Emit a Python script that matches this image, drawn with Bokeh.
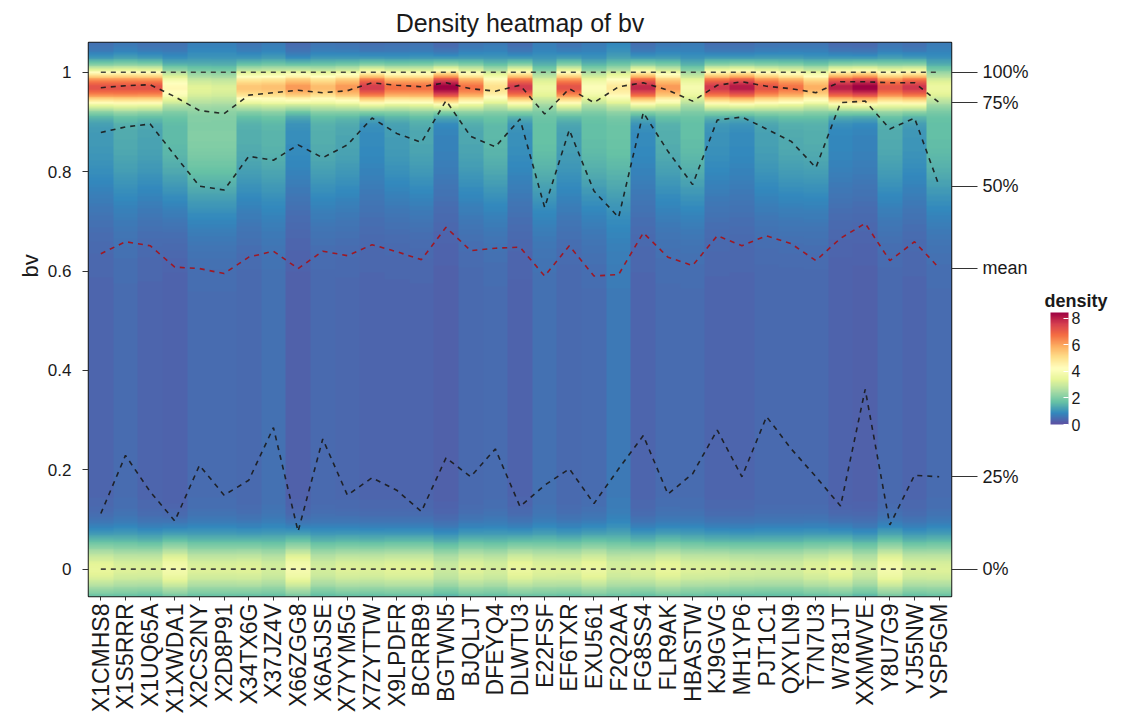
import numpy as np
from bokeh.plotting import figure
from bokeh.models import (FactorRange, Range1d, LinearAxis, FixedTicker,
                          LinearColorMapper, ColorBar)
from bokeh.embed import file_html
from bokeh.resources import INLINE

# ---------------- data ----------------
categories = ["X1CMHS8", "X1S5RRR", "X1UQ65A", "X1XWDA1", "X2CS2NY", "X2D8P91",
              "X34TX6G", "X37JZ4V", "X66ZGG8", "X6A5JSE", "X7YYM5G", "X7ZYTTW",
              "X9LPDFR", "BCRRB9", "BGTWN5", "BJQLJT", "DFEYQ4", "DLWTU3",
              "E22FSF", "EF6TXR", "EXU561", "F2Q2AA", "FG8SS4", "FLR9AK",
              "HBASTW", "KJ9GVG", "MH1YP6", "PJT1C1", "QXYLN9", "T7N7U3",
              "W781JT", "XXMWVE", "Y8U7G9", "YJ55NW", "YSP5GM"]

q100 = [1.0, 1.0, 1.0, 1.0, 1.0, 1.0, 1.0, 1.0, 1.0, 1.0, 1.0, 1.0,
        1.0, 1.0, 1.0, 1.0, 1.0, 1.0, 1.0, 1.0, 1.0, 1.0, 1.0, 1.0,
        1.0, 1.0, 1.0, 1.0, 1.0, 1.0, 1.0, 1.0, 1.0, 1.0, 1.0]
q75 = [0.969, 0.973, 0.975, 0.951, 0.923, 0.917, 0.954, 0.959, 0.964, 0.959,
       0.963, 0.979, 0.974, 0.971, 0.979, 0.967, 0.962, 0.974, 0.916, 0.967,
       0.939, 0.971, 0.979, 0.964, 0.942, 0.974, 0.981, 0.972, 0.967, 0.959,
       0.981, 0.981, 0.979, 0.979, 0.939]
q50 = [0.879, 0.890, 0.896, 0.833, 0.771, 0.763, 0.831, 0.823, 0.854, 0.828,
       0.854, 0.908, 0.877, 0.859, 0.943, 0.871, 0.850, 0.906, 0.728, 0.884,
       0.761, 0.708, 0.919, 0.841, 0.774, 0.904, 0.910, 0.886, 0.861, 0.808,
       0.939, 0.942, 0.886, 0.908, 0.771]
mean_bv = [0.635, 0.659, 0.651, 0.608, 0.605, 0.595, 0.628, 0.640, 0.605, 0.640,
           0.631, 0.653, 0.639, 0.623, 0.688, 0.641, 0.646, 0.648, 0.590, 0.651,
           0.590, 0.593, 0.677, 0.628, 0.611, 0.671, 0.651, 0.671, 0.655, 0.621,
           0.666, 0.696, 0.621, 0.659, 0.606]
q25 = [0.112, 0.229, 0.156, 0.097, 0.209, 0.149, 0.179, 0.285, 0.076, 0.262,
       0.149, 0.184, 0.159, 0.116, 0.224, 0.186, 0.242, 0.126, 0.169, 0.202,
       0.132, 0.202, 0.269, 0.151, 0.192, 0.280, 0.186, 0.307, 0.242, 0.186,
       0.127, 0.362, 0.089, 0.189, 0.186]
q0 = [0.0, 0.0, 0.0, 0.0, 0.0, 0.0, 0.0, 0.0, 0.0, 0.0, 0.0, 0.0,
      0.0, 0.0, 0.0, 0.0, 0.0, 0.0, 0.0, 0.0, 0.0, 0.0, 0.0, 0.0,
      0.0, 0.0, 0.0, 0.0, 0.0, 0.0, 0.0, 0.0, 0.0, 0.0, 0.0]

# density components read per column: peak near 1, shoulder below it,
# interior level, peak at 0
top_peak = [6.4, 6.2, 6.3, 3.3, 1.9, 1.8, 4.5, 4.5, 5.5, 4.65, 5.25, 6.9,
            5.85, 5.75, 7.85, 5.75, 3.9, 6.9, 2.4, 6.3, 2.9, 3.5, 7.2, 5.15,
            2.7, 6.9, 7.4, 6.3, 5.7, 4.85, 7.4, 7.85, 6.2, 6.9, 2.4]
shoulder = [0.75, 0.9, 0.9, 1.3, 1.6, 1.6, 1.0, 1.0, 0.65, 1.0, 0.9, 0.55,
            0.8, 0.95, 0.5, 0.9, 1.1, 0.65, 1.2, 0.8, 1.2, 1.1, 0.55, 0.95,
            1.2, 0.65, 0.55, 0.8, 0.95, 1.0, 0.55, 0.5, 0.95, 0.7, 1.2]
interior = [0.35, 0.45, 0.35, 0.30, 0.45, 0.45, 0.40, 0.50, 0.28, 0.40, 0.38, 0.35,
            0.35, 0.35, 0.28, 0.40, 0.45, 0.32, 0.50, 0.40, 0.45, 0.65, 0.35, 0.45,
            0.45, 0.35, 0.35, 0.40, 0.40, 0.40, 0.30, 0.28, 0.40, 0.35, 0.45]
bottom_peak = [3.1, 2.8, 2.9, 3.5, 2.8, 2.8, 2.9, 2.6, 3.6, 2.7, 2.9, 2.9,
               3.0, 3.0, 2.7, 2.9, 2.7, 3.2, 2.8, 2.9, 3.1, 2.5, 2.9, 3.0,
               2.8, 2.9, 2.8, 2.7, 2.7, 2.9, 3.2, 2.8, 3.4, 2.9, 2.8]

y_ticks = [0, 0.2, 0.4, 0.6, 0.8, 1.0]
y_tick_labels = ["0", "0.2", "0.4", "0.6", "0.8", "1"]
quantile_names = ["100%", "75%", "50%", "mean", "25%", "0%"]
density_ticks = [0, 2, 4, 6, 8]

spectral = ["#5e4fa2", "#3288bd", "#66c2a5", "#abdda4", "#e6f598", "#ffffbf",
            "#fee08b", "#fdae61", "#f46d43", "#d53e4f", "#9e0142"]

FONT = "Liberation Sans"
TXT = "#1a1a1a"


def interp_palette(cols, n):
    rgb = np.array([[int(c[i:i + 2], 16) for i in (1, 3, 5)] for c in cols], float)
    out = []
    for t in np.linspace(0, len(cols) - 1, n):
        i = min(int(t), len(cols) - 2)
        f = t - i
        c = rgb[i] * (1 - f) + rgb[i + 1] * f
        out.append("#%02x%02x%02x" % tuple(int(round(v)) for v in c))
    return out


palette = interp_palette(spectral, 256)

# ---------------- density image ----------------
y_lo, y_hi = -0.055, 1.06
ny = 320
ys = y_lo + (np.arange(ny) + 0.5) * (y_hi - y_lo) / ny
Y = ys[:, None]
dens = (np.array(bottom_peak)[None, :] * np.exp(-Y ** 2 / (2 * 0.043 ** 2))
        + np.array(top_peak)[None, :] * np.exp(-(Y - 0.97) ** 2 / (2 * 0.027 ** 2))
        + np.array(shoulder)[None, :] * np.exp(-(Y - 0.87) ** 2 / (2 * 0.1 ** 2))
        + np.array(interior)[None, :])

mapper = LinearColorMapper(palette=palette, low=0, high=8.45)

W, H = 1110, 716
FL, FT, FR, FB = 88, 42, 955, 600

p = figure(width=W, height=H,
           x_range=FactorRange(*categories, range_padding=0),
           y_range=Range1d(y_lo, y_hi),
           output_backend="svg", toolbar_location=None,
           min_border_left=FL, min_border_right=W - FR,
           min_border_top=FT, min_border_bottom=H - FB)

p.title.text = "Density heatmap of bv"
p.title.align = "center"
p.title.text_font = FONT
p.title.text_font_size = "25px"
p.title.text_font_style = "normal"
p.title.text_color = TXT
p.title.standoff = 12

p.image(image=[dens], x=0, y=y_lo, dw=len(categories), dh=y_hi - y_lo,
        color_mapper=mapper)

dash = "5 5"
for series, col in [(q100, "#333333"), (q75, "#1a1a1a"), (q50, "#1a1a1a"),
                    (q25, "#1a1a1a"), (q0, "#333333")]:
    p.line(x=categories, y=series, line_color=col, line_width=1.6,
           line_dash=dash, line_alpha=0.9)
p.line(x=categories, y=mean_bv, line_color="#a3141c", line_width=1.6,
       line_dash=dash, line_alpha=0.95)

p.xgrid.visible = False
p.ygrid.visible = False
p.outline_line_color = "#1a1a1a"
p.outline_line_width = 1.5
p.background_fill_color = "white"
p.border_fill_color = "white"

# left axis
ya = p.yaxis[0]
ya.ticker = FixedTicker(ticks=y_ticks)
ya.major_label_overrides = {t: l for t, l in zip(y_ticks, y_tick_labels)}
ya.major_label_text_font = FONT
ya.major_label_text_font_size = "17px"
ya.major_label_text_color = TXT
ya.axis_line_color = None
ya.major_tick_out = 6
ya.major_tick_in = 0
ya.major_tick_line_color = "#333333"
ya.minor_tick_line_color = None
ya.major_label_standoff = 11

# y axis title "bv", positioned as in the reference (above the panel centre)
axis_title_y = 0.634
la = LinearAxis(ticker=FixedTicker(ticks=[axis_title_y]),
                major_label_overrides={axis_title_y: "bv"})
la.axis_line_color = None
la.major_tick_line_color = None
la.major_tick_out = 0
la.major_tick_in = 0
la.minor_tick_line_color = None
la.major_label_orientation = np.pi / 2
la.major_label_text_font = FONT
la.major_label_text_font_size = "22px"
la.major_label_text_color = TXT
la.major_label_standoff = 14
p.add_layout(la, "left")

# bottom axis
xa = p.xaxis[0]
xa.major_label_orientation = np.pi / 2
xa.major_label_text_font = FONT
xa.major_label_text_font_size = "23px"
xa.major_label_text_color = TXT
xa.axis_line_color = None
xa.major_tick_out = 4
xa.major_tick_in = 0
xa.major_tick_line_color = "#333333"
xa.major_label_standoff = 3

# right axis with quantile labels at the last category's values
last_vals = [q100[-1], q75[-1], q50[-1], mean_bv[-1], q25[-1], q0[-1]]
ra = LinearAxis(ticker=FixedTicker(ticks=last_vals),
                major_label_overrides={v: n for v, n in zip(last_vals, quantile_names)})
ra.axis_line_color = None
ra.major_tick_out = 26
ra.major_tick_in = 0
ra.major_tick_line_color = "#333333"
ra.major_tick_line_width = 1.2
ra.minor_tick_line_color = None
ra.major_label_text_font = FONT
ra.major_label_text_font_size = "18px"
ra.major_label_text_color = TXT
ra.major_label_standoff = 5
p.add_layout(ra, "right")

# legend title "density" (horizontal text in the right margin)
legend_title_y = 0.539
ta = LinearAxis(ticker=FixedTicker(ticks=[legend_title_y]),
                major_label_overrides={legend_title_y: "density"})
ta.axis_line_color = None
ta.major_tick_line_color = None
ta.major_tick_out = 0
ta.major_tick_in = 0
ta.minor_tick_line_color = None
ta.major_label_text_font = FONT
ta.major_label_text_font_size = "18px"
ta.major_label_text_font_style = "bold"
ta.major_label_text_color = TXT
ta.major_label_standoff = 13
p.add_layout(ta, "right")

# colour bar
cb = ColorBar(color_mapper=mapper, ticker=FixedTicker(ticks=density_ticks),
              width=18, height=112,
              major_label_text_font=FONT, major_label_text_font_size="16px",
              major_label_text_color=TXT, label_standoff=3,
              major_tick_line_color="white", major_tick_in=5,
              bar_line_color=None, padding=0, margin=0,
              background_fill_color=None, border_line_color=None,
              location=(1050 - FL, FB - 428))
p.add_layout(cb, "center")

open("out.html", "w").write(file_html(p, INLINE))
